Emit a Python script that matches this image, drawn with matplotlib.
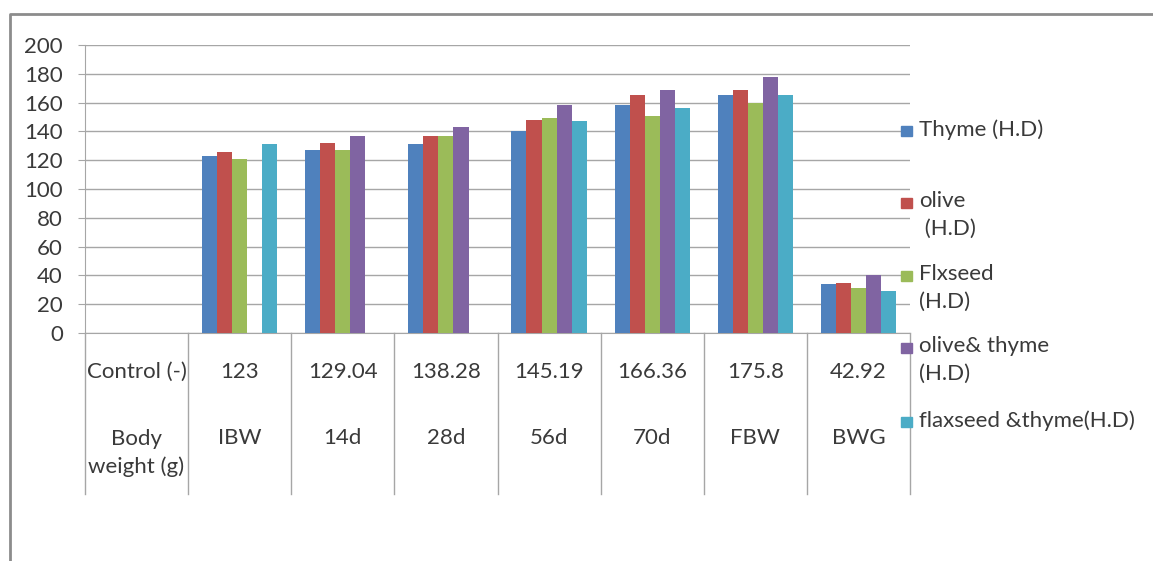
import numpy as np
import matplotlib
matplotlib.use("Agg")
import matplotlib.pyplot as plt
from matplotlib.patches import Rectangle
from matplotlib.lines import Line2D
from matplotlib.transforms import blended_transform_factory

plt.rcParams["font.family"] = ["Lato", "DejaVu Sans"]

# data
periods = ["Body\nweight (g)", "IBW", "14d", "28d", "56d", "70d", "FBW", "BWG"]
control = ["Control (-)", "123", "129.04", "138.28", "145.19", "166.36", "175.8", "42.92"]
series_names = ["Thyme (H.D)", "olive\n (H.D)", "Flxseed\n(H.D)", "olive& thyme\n(H.D)", "flaxseed &thyme(H.D)"]
thyme = [np.nan, 123, 127, 131, 140, 158, 165, 34]
olive = [np.nan, 126, 132, 137, 148, 165, 169, 35]
flax = [np.nan, 121, 127, 137, 149, 151, 160, 31]
olive_thyme = [np.nan, np.nan, 137, 143, 158, 169, 178, 40]
flax_thyme = [np.nan, 131, np.nan, np.nan, 147, 156, 165, 29]
colors = ["#4F81BD", "#C0504D", "#9BBB59", "#8064A2", "#4BACC6"]

W, H = 1153, 561
fig = plt.figure(figsize=(W / 100, H / 100), dpi=100)

def fx(px):
    return px / W

def fy(py):
    return 1 - py / H

ax = fig.add_axes([fx(85), fy(333), fx(910) - fx(85), fy(45) - fy(333)])

grid_col = "#a6a6a6"
txt_col = "#3a3a3a"
fs = 16
x = np.arange(len(periods))
bw = 0.146
all_series = [thyme, olive, flax, olive_thyme, flax_thyme]
for i, vals in enumerate(all_series):
    ax.bar(x + (i - 2) * bw, vals, width=bw, color=colors[i], zorder=3, linewidth=0)

ax.set_xlim(-0.5, len(periods) - 0.5)
ax.set_ylim(0, 200)
ax.set_yticks(range(0, 201, 20))
ax.set_xticks([])
ax.yaxis.grid(True, color=grid_col, linewidth=1)
ax.set_axisbelow(True)
for s in ["top", "right"]:
    ax.spines[s].set_visible(False)
ax.spines["left"].set_color(grid_col)
ax.spines["bottom"].set_color(grid_col)
ax.tick_params(axis="y", length=5, color=grid_col, labelsize=fs, labelcolor=txt_col, pad=11)

# data table under the axis
tr = blended_transform_factory(ax.transData, ax.transAxes)
def ay(py):
    return (333 - py) / (333 - 45)

for b in np.arange(-0.5, len(periods), 1.0):
    ax.add_line(Line2D([b, b], [0, ay(494)], transform=tr, color=grid_col,
                       linewidth=1, clip_on=False))
for i in range(len(periods)):
    ax.text(i, ay(372), control[i], transform=tr, ha="center", va="center",
            fontsize=fs, color=txt_col)
    yy = ay(453) if "\n" in periods[i] else ay(438)
    ax.text(i, yy, periods[i], transform=tr, ha="center", va="center",
            fontsize=fs, color=txt_col, linespacing=1.45)

# legend drawn by hand, Excel style
leg_y = [131, 203, 276, 348, 422]
for i, name in enumerate(series_names):
    fig.patches.append(Rectangle((fx(901), fy(leg_y[i] + 5)), fx(11), 10 / H,
                                 transform=fig.transFigure, color=colors[i]))
    fig.text(fx(919), fy(leg_y[i] - 12), name, ha="left", va="top",
             fontsize=fs, color=txt_col, linespacing=1.5)

# outer chart frame
fig.add_artist(Line2D([fx(10), fx(10), fx(1153)], [fy(561), fy(14), fy(14)],
                      transform=fig.transFigure, color="#8c8c8c", linewidth=2))

fig.savefig("out.png", dpi=100)
